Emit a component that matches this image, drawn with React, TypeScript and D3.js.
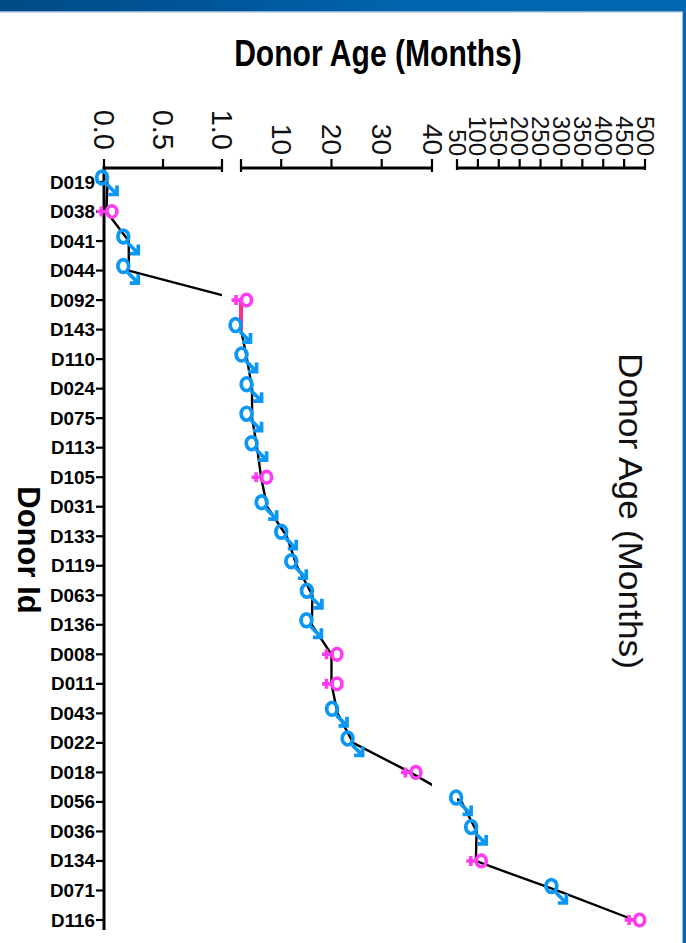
import React from "react";
import * as d3 from "d3";

const donors = ["D019","D038","D041","D044","D092","D143","D110","D024","D075","D113","D105","D031","D133","D119","D063","D136","D008","D011","D043","D022","D018","D056","D036","D134","D071","D116"];
const ages = [0.03,0.02,0.21,0.21,2,2,3.2,4.2,4.2,5.2,6,7.2,11.1,13.1,16.2,16.1,20,20,21.2,24.3,35.7,61,97,95,289,474];
const sexes = ["M","F","M","M","F","M","M","M","M","M","F","M","M","M","M","M","F","F","M","M","F","M","M","F","M","F"];
const ticks1 = [0,0.5,1];
const ticks2 = [10,20,30,40];
const ticks3 = [50,100,150,200,250,300,350,400,450,500];

const BLUE = "#0a97f5";
const PINK = "#ff3cf0";

const s1 = d3.scaleLinear().domain([0,1]).range([104,222]);
const s2 = d3.scaleLinear().domain([2,40]).range([241,432]);
const s3 = d3.scaleLinear().domain([50,500]).range([457,645]);
const xPos = (v: number) => (v <= 1 ? s1(v) : v <= 40 ? s2(v) : s3(v));
const y = d3.scalePoint<string>().domain(donors).range([182,920]);

const AXIS_Y = 168;

function HAxis({ scale, ticks, fmt, size, labelEnd, endDrop }: any) {
  const [a, b] = scale.range();
  const all: number[] = Array.from(new Set([a, b, ...ticks.map((t: number) => scale(t))]));
  return (
    <g>
      <line x1={a - 1} x2={b + 1} y1={AXIS_Y} y2={AXIS_Y} stroke="#000" strokeWidth={3} />
      {all.map((p, i) => (
        <line key={i} x1={p} x2={p} y1={(p === b || (p === a && a > 110)) ? AXIS_Y + endDrop : AXIS_Y} y2={AXIS_Y - 9} stroke="#000" strokeWidth={2.2} />
      ))}
      {ticks.map((t: number) => (
        <text key={t} transform={`translate(${scale(t)},${labelEnd}) rotate(90)`} textAnchor="end" dominantBaseline="central"
          fontFamily="Liberation Sans" fontSize={size} fill="#111">{fmt(t)}</text>
      ))}
    </g>
  );
}

function Male({ x, y }: { x: number; y: number }) {
  return (
    <g transform={`translate(${x},${y})`} fill="none" stroke={BLUE} strokeWidth={3.7}>
      <ellipse cx={-5.5} cy={-4.5} rx={5.4} ry={6.4} />
      <path d="M-1,2 L9,12" />
      <path d="M1,12.5 L9.5,12.5 L9.5,3.5" />
    </g>
  );
}

function Female({ x, y }: { x: number; y: number }) {
  return (
    <g transform={`translate(${x},${y})`} fill="none" stroke={PINK} strokeWidth={3.6}>
      <ellipse cx={5.5} cy={0} rx={5} ry={5.8} />
      <path d="M2,0 L-9.5,0 M-5,-5 L-5,5" />
    </g>
  );
}

export default function App() {
  const points = donors.map((d, i) => ({ d, px: xPos(ages[i]), py: y(d)! }));
  const line = d3.line<any>().x((p) => p.px).y((p) => p.py);
  return (
    <svg width={686} height={943} style={{ position: "absolute", left: 0, top: 0, background: "#fff" }}>
      <defs>
        <linearGradient id="hdr" x1="0" x2="1" y1="0" y2="0">
          <stop offset="0" stopColor="#004a85" />
          <stop offset="0.35" stopColor="#00589c" />
          <stop offset="0.6" stopColor="#0065ae" />
          <stop offset="1" stopColor="#0068b2" />
        </linearGradient>
        <clipPath id="segs">
          <rect x={90} y={150} width={132} height={790} />
          <rect x={241} y={150} width={191} height={790} />
          <rect x={457} y={150} width={200} height={790} />
        </clipPath>
      </defs>
      <rect x={0} y={0} width={686} height={11} fill="url(#hdr)" />
      <rect x={0} y={11} width={683} height={1.4} fill="#86a9cf" />
      <rect x={683} y={0} width={3} height={943} fill="#0068b2" />
      <rect x={682} y={12} width={1} height={931} fill="#9dbfe0" />

      <text x={378} y={54} textAnchor="middle" dominantBaseline="central" fontFamily="Liberation Sans" fontWeight="bold" fontSize={36}
        transform="translate(378,0) scale(0.835,1) translate(-378,0)" fill="#000">Donor Age (Months)</text>
      <text transform="translate(631,511) rotate(90) scale(1.07,1)" textAnchor="middle" dominantBaseline="central" fontFamily="Liberation Sans" fontSize={33} fill="#111"
        >Donor Age (Months)</text>
      <text transform="translate(28,550) rotate(90)" textAnchor="middle" dominantBaseline="central" fontFamily="Liberation Sans" fontWeight="bold" fontSize={31} fill="#000">Donor Id</text>

      <HAxis scale={s1} ticks={ticks1} fmt={d3.format(".1f")} size={29} labelEnd={150} endDrop={4} />
      <HAxis scale={s2} ticks={ticks2} fmt={d3.format("d")} size={28} labelEnd={155} endDrop={4} />
      <HAxis scale={s3} ticks={ticks3} fmt={d3.format("d")} size={24} labelEnd={156} endDrop={2} />

      <line x1={104} x2={104} y1={166.5} y2={930} stroke="#000" strokeWidth={3} />
      {donors.map((d) => (
        <g key={d}>
          <line x1={96} x2={104} y1={y(d)} y2={y(d)} stroke="#000" strokeWidth={2.2} />
          <text x={95} y={y(d)} textAnchor="end" dominantBaseline="central" fontFamily="Liberation Sans" fontWeight="bold" fontSize={19} fill="#000"
            transform={`translate(95,0) scale(0.99,1) translate(-95,0)`}>{d}</text>
        </g>
      ))}

      <g clipPath="url(#segs)">
        <path d={line(points) || ""} fill="none" stroke="#000" strokeWidth={2.4} />
      </g>
      <path d={line(points.slice(4, 6)) || ""} fill="none" stroke="#ff2f8f" strokeWidth={4} />
      {points.map((p, i) => sexes[i] === "M" ? <Male key={p.d} x={p.px} y={p.py} /> : <Female key={p.d} x={p.px} y={p.py} />)}
    </svg>
  );
}
